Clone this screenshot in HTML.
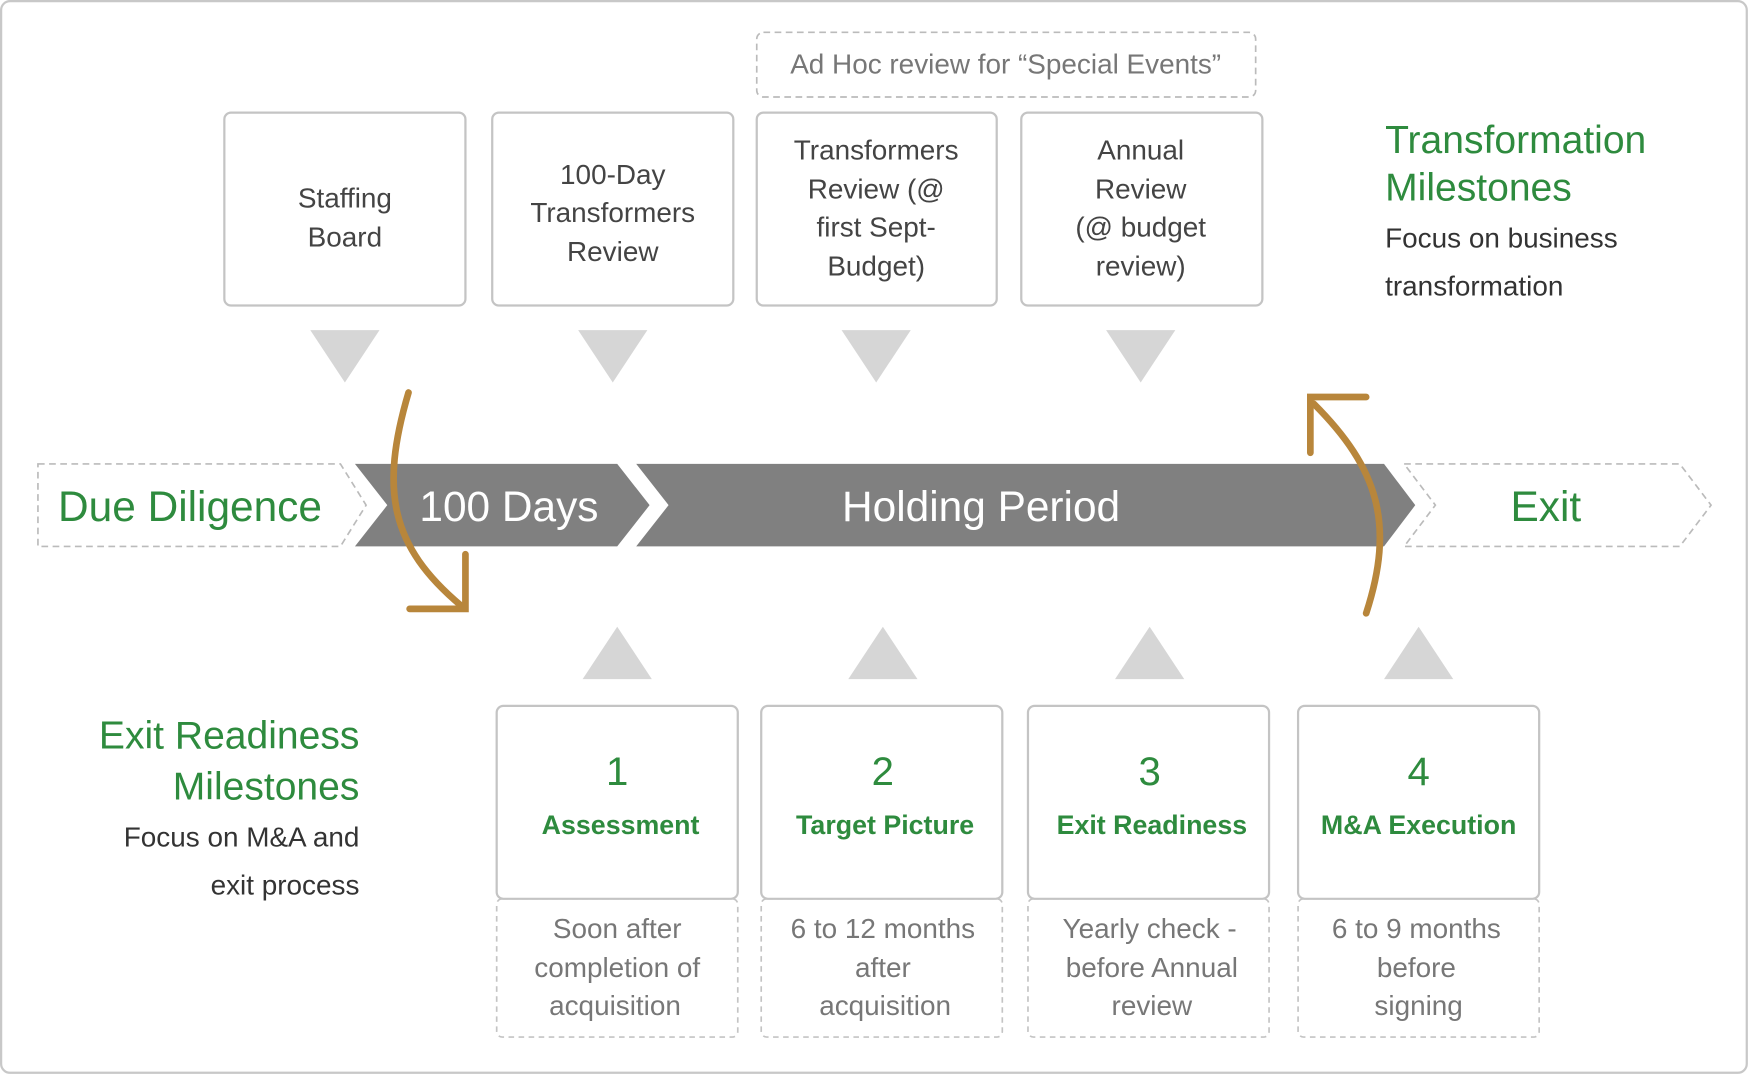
<!DOCTYPE html>
<html><head><meta charset="utf-8"><style>
html,body{margin:0;padding:0;background:#fff;}
svg{display:block;}
text{font-family:"Liberation Sans",sans-serif;}
</style></head><body>
<svg width="1749" height="1075" viewBox="0 0 1567 964" preserveAspectRatio="none" xmlns="http://www.w3.org/2000/svg">
<rect x="1" y="1" width="1564" height="961" rx="8" fill="#fff" stroke="#c8c8c8" stroke-width="2"/>
<!-- ad hoc -->
<rect x="678" y="29" width="447" height="58" rx="6" fill="none" stroke="#bbb" stroke-width="1.5" stroke-dasharray="6,4"/>
<text x="901" y="66" font-size="25" fill="#777" text-anchor="middle">Ad Hoc review for “Special Events”</text>
<!-- top boxes -->
<g fill="#fff" stroke="#c4c4c4" stroke-width="2">
<rect x="201" y="101" width="216" height="173" rx="6"/>
<rect x="441" y="101" width="216" height="173" rx="6"/>
<rect x="678" y="101" width="215" height="173" rx="6"/>
<rect x="915" y="101" width="216" height="173" rx="6"/>
</g>
<g font-size="25" fill="#444" text-anchor="middle">
<text x="309" y="186">Staffing</text><text x="309" y="221">Board</text>
<text x="549" y="165">100-Day</text><text x="549" y="199">Transformers</text><text x="549" y="234">Review</text>
<text x="785" y="143">Transformers</text><text x="785" y="178">Review (@</text><text x="785" y="212">first Sept-</text><text x="785" y="247">Budget)</text>
<text x="1022" y="143">Annual</text><text x="1022" y="178">Review</text><text x="1022" y="212">(@ budget</text><text x="1022" y="247">review)</text>
</g>
<g fill="#d6d6d6">
<polygon points="278,296 340,296 309,343"/>
<polygon points="518,296 580,296 549,343"/>
<polygon points="754,296 816,296 785,343"/>
<polygon points="991,296 1053,296 1022,343"/>
<polygon points="553,562 522,609 584,609"/>
<polygon points="791,562 760,609 822,609"/>
<polygon points="1030,562 999,609 1061,609"/>
<polygon points="1271,562 1240,609 1302,609"/>
</g>
<!-- right text -->
<text x="1241" y="137" font-size="35" fill="#2e8b3e">Transformation</text>
<text x="1241" y="180" font-size="35" fill="#2e8b3e">Milestones</text>
<text x="1241" y="222" font-size="25" fill="#333">Focus on business</text>
<text x="1241" y="265" font-size="25" fill="#333">transformation</text>
<!-- band -->
<polygon points="34,416 305,416 328,453 305,490 34,490" fill="none" stroke="#bbb" stroke-width="1.5" stroke-dasharray="6,4"/>
<polygon points="1258,416 1505,416 1533,453 1505,490 1258,490 1286,453" fill="none" stroke="#bbb" stroke-width="1.5" stroke-dasharray="6,4"/>
<polygon points="318,416 553,416 582,453 553,490 318,490 347,453" fill="#808080"/>
<polygon points="570,416 1240,416 1268,453 1240,490 570,490 599,453" fill="#808080"/>
<text x="52" y="467" font-size="38" fill="#2e8b3e">Due Diligence</text>
<text x="456" y="467" font-size="38" fill="#fff" text-anchor="middle">100 Days</text>
<text x="879" y="467" font-size="38" fill="#fff" text-anchor="middle">Holding Period</text>
<text x="1385" y="467" font-size="38" fill="#2e8b3e" text-anchor="middle">Exit</text>
<!-- orange arrows -->
<g fill="none" stroke="#b8863b" stroke-width="6" stroke-linecap="round">
<path d="M366,352 C340,440 350,490 413,543"/>
<path d="M417,497 L417,546 L367,546"/>
<path d="M1224,550 C1250,470 1235,420 1177,362"/>
<path d="M1174,406 L1174,356 L1224,356"/>
</g>
<!-- left bottom text -->
<g text-anchor="end">
<text x="322" y="671" font-size="35" fill="#2e8b3e">Exit Readiness</text>
<text x="322" y="717" font-size="35" fill="#2e8b3e">Milestones</text>
<text x="322" y="759" font-size="25" fill="#333">Focus on M&amp;A and</text>
<text x="322" y="802" font-size="25" fill="#333">exit process</text>
</g>
<!-- bottom boxes -->
<g fill="none" stroke="#c4c4c4" stroke-width="1.5" stroke-dasharray="5,4">
<rect x="445" y="806" width="216" height="124" rx="5"/>
<rect x="682" y="806" width="216" height="124" rx="5"/>
<rect x="921" y="806" width="216" height="124" rx="5"/>
<rect x="1163" y="806" width="216" height="124" rx="5"/>
</g>
<g fill="#fff" stroke="#c4c4c4" stroke-width="2">
<rect x="445" y="633" width="216" height="173" rx="6"/>
<rect x="682" y="633" width="216" height="173" rx="6"/>
<rect x="921" y="633" width="216" height="173" rx="6"/>
<rect x="1163" y="633" width="216" height="173" rx="6"/>
</g>
<g text-anchor="middle" fill="#2e8b3e">
<text x="553" y="704" font-size="36">1</text>
<text x="791" y="704" font-size="36">2</text>
<text x="1030" y="704" font-size="36">3</text>
<text x="1271" y="704" font-size="36">4</text>
<g font-size="24" font-weight="bold">
<text x="556" y="748">Assessment</text>
<text x="793" y="748">Target Picture</text>
<text x="1032" y="748">Exit Readiness</text>
<text x="1271" y="748">M&amp;A Execution</text>
</g>
</g>
<g text-anchor="middle" fill="#777" font-size="25">
<text x="553" y="841">Soon after</text><text x="553" y="876">completion of</text><text x="551" y="910">acquisition</text>
<text x="791" y="841">6 to 12 months</text><text x="791" y="876">after</text><text x="793" y="910">acquisition</text>
<text x="1030" y="841">Yearly check -</text><text x="1032" y="876">before Annual</text><text x="1032" y="910">review</text>
<text x="1269" y="841">6 to 9 months</text><text x="1269" y="876">before</text><text x="1271" y="910">signing</text>
</g>
</svg>
</body></html>
